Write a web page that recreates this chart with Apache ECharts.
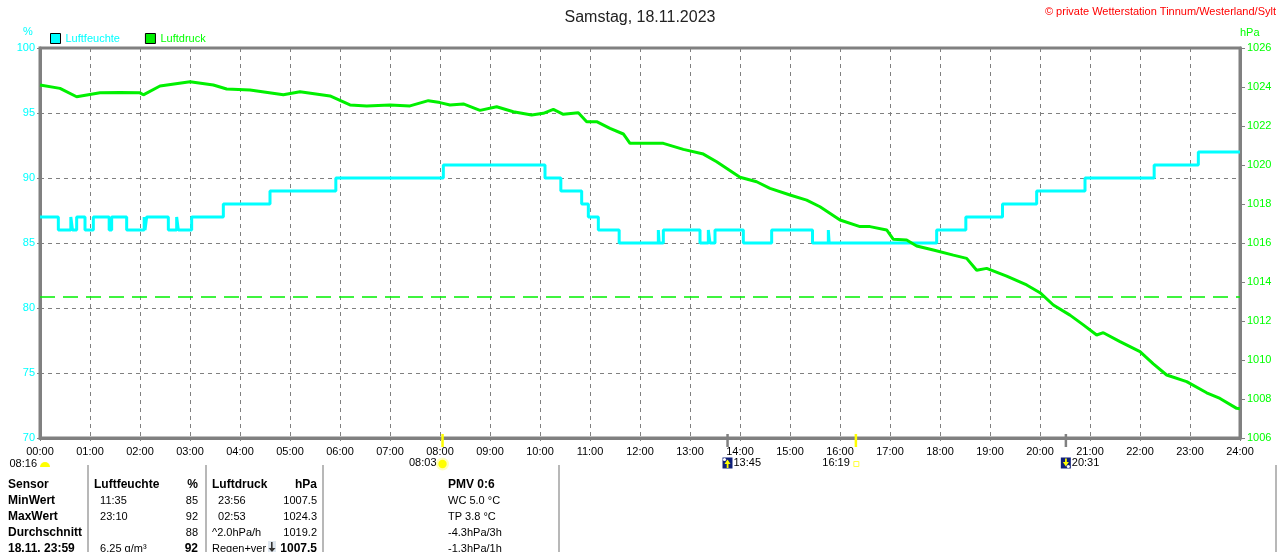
<!DOCTYPE html>
<html>
<head>
<meta charset="utf-8">
<script src="https://cdn.jsdelivr.net/npm/echarts@6/dist/echarts.min.js"></script>
<style>
html,body{margin:0;padding:0;background:#fff;}
#c{width:1280px;height:552px;}
</style>
</head>
<body>
<div id="c"></div>
<script>
// ---- data ----
var titleText = 'Samstag, 18.11.2023';
var copyrightText = '\u00A9 private Wetterstation Tinnum/Westerland/Sylt';
var seriesNames = ['Luftfeuchte', 'Luftdruck'];

// humidity (%) step values: value holds from time (minutes) until next time
var humTimes  = [0,22,37,39,44,54,64,83,86,104,125,126,128,154,164,166,182,220,276,355,484,606,625,650,658,670,695,742,743,748,792,802,804,810,844,878,927,946,947,1076,1111,1155,1196,1254,1337,1390,1440];
var humValues = [87,86,87,86,87,86,87,86,87,86,87,86,87,86,87,86,87,88,89,90,91,90,89,88,87,86,85,86,85,86,85,86,85,86,85,86,85,86,85,86,87,88,89,90,91,92,92];

// pressure (hPa)
var pressTimes  = [0,24,44,72,96,120,124,144,180,208,224,252,292,312,348,372,392,420,444,466,480,492,508,528,548,568,590,604,616,628,646,656,668,684,700,708,724,748,772,796,812,840,860,876,900,920,936,960,984,996,1016,1024,1040,1052,1072,1096,1112,1124,1136,1160,1184,1200,1216,1236,1252,1268,1276,1296,1320,1336,1352,1376,1400,1416,1436,1440];
var pressValues = [1024.1,1023.93,1023.5,1023.7,1023.72,1023.7,1023.6,1024.05,1024.27,1024.1,1023.9,1023.85,1023.6,1023.76,1023.54,1023.08,1023.03,1023.08,1023.03,1023.3,1023.2,1023.08,1023.13,1022.8,1022.99,1022.73,1022.56,1022.65,1022.85,1022.6,1022.68,1022.22,1022.22,1021.88,1021.59,1021.11,1021.11,1021.11,1020.8,1020.56,1020.17,1019.37,1019.14,1018.8,1018.46,1018.2,1017.86,1017.18,1016.84,1016.84,1016.67,1016.19,1016.15,1015.85,1015.64,1015.38,1015.21,1014.6,1014.7,1014.3,1013.85,1013.45,1012.82,1012.3,1011.8,1011.28,1011.4,1010.94,1010.43,1009.8,1009.23,1008.89,1008.32,1008.03,1007.52,1007.5];

var standardPressure = 1013.25;

// sun / moon events
var dayLength = '08:16';
var sunEvents  = [{t:'08:03', kind:'rise'}, {t:'16:19', kind:'set'}];
var moonEvents = [{t:'13:45', kind:'rise'}, {t:'20:31', kind:'set'}];

// info table
var tableRows = [
  ['Sensor', 'Luftfeuchte', '%', 'Luftdruck', 'hPa', 'PMV 0:6'],
  ['MinWert', '  11:35', '85', '  23:56', '1007.5', 'WC 5.0 \u00B0C'],
  ['MaxWert', '  23:10', '92', '  02:53', '1024.3', 'TP 3.8 \u00B0C'],
  ['Durchschnitt', '', '88', '^2.0hPa/h', '1019.2', '-4.3hPa/3h'],
  ['18.11. 23:59', '  6.25 g/m\u00B3', '92', 'Regen+ver', '1007.5', '-1.3hPa/1h']
];

// ---- chart ----
var CYAN = '#00ffff', GREEN = '#00f000', GREENTXT = '#00ff00', GRAY = '#808080';
var FONT = 'Liberation Sans';
function toMin(s){ var p = s.split(':'); return (+p[0])*60 + (+p[1]); }
function pad(n){ return (n<10?'0':'') + n; }

var humData = humTimes.map(function(t,i){ return [t, humValues[i]]; });
var pressData = pressTimes.map(function(t,i){ return [t, pressValues[i]]; });

var chart = echarts.init(document.getElementById('c'), null, {renderer:'canvas'});
var option = {
  animation: false,
  backgroundColor: '#fff',
  textStyle: {fontFamily: FONT},
  title: {
    text: titleText, left: 'center', top: 5,
    textStyle: {fontSize: 16, fontWeight: 'normal', color: '#222', fontFamily: FONT}
  },
  legend: {
    left: 50, top: 33, padding: 0, itemWidth: 10, itemHeight: 10, itemGap: 25,
    icon: 'rect',
    itemStyle: {borderColor: '#000', borderWidth: 1},
    textStyle: {fontSize: 11, fontFamily: FONT},
    data: [
      {name: seriesNames[0], textStyle: {color: CYAN}},
      {name: seriesNames[1], textStyle: {color: GREENTXT}}
    ],
    selectedMode: false
  },
  grid: {
    left: 40, right: 40, top: 48, bottom: 114,
    show: true, borderColor: GRAY, borderWidth: 3, backgroundColor: '#fff'
  },
  xAxis: {
    type: 'value', min: 0, max: 1440, interval: 60,
    axisLine: {show: true, lineStyle: {color: GRAY, width: 3}},
    axisTick: {show: true, length: 3, lineStyle: {color: GRAY}},
    axisLabel: {
      color: '#000', fontSize: 11, fontFamily: FONT, margin: 8,
      showMaxLabel: true, showMinLabel: true,
      formatter: function(v){ return pad(Math.round(v/60)) + ':00'; }
    },
    splitLine: {show: true, lineStyle: {color: GRAY, type: [4,4], width: 1}}
  },
  yAxis: [
    {
      type: 'value', min: 70, max: 100, interval: 5, position: 'left',
      axisLine: {show: true, lineStyle: {color: GRAY, width: 3}},
      axisTick: {show: true, length: 3, lineStyle: {color: GRAY}},
      axisLabel: {color: CYAN, fontSize: 11, fontFamily: FONT, margin: 5},
      splitLine: {show: true, lineStyle: {color: GRAY, type: [4,4], width: 1}}
    },
    {
      type: 'value', min: 1006, max: 1026, interval: 2, position: 'right',
      axisLine: {show: true, lineStyle: {color: GRAY, width: 3}},
      axisTick: {show: true, length: 5, lineStyle: {color: GRAY}},
      axisLabel: {color: GREENTXT, fontSize: 11, fontFamily: FONT, margin: 7,
        formatter: function(v){ return String(v); }},
      splitLine: {show: false}
    }
  ],
  series: [
    {
      name: seriesNames[0], type: 'line', yAxisIndex: 0, step: 'end',
      data: humData, showSymbol: false, symbol: 'none',
      lineStyle: {color: CYAN, width: 3}, itemStyle: {color: CYAN}, z: 3
    },
    {
      name: seriesNames[1], type: 'line', yAxisIndex: 1,
      data: pressData, showSymbol: false, symbol: 'none',
      lineStyle: {color: GREEN, width: 3}, itemStyle: {color: GREEN}, z: 4,
      markLine: {
        silent: true, symbol: ['none','none'], label: {show: false},
        lineStyle: {color: GREEN, type: [15,8], width: 1.5},
        data: [{yAxis: standardPressure}]
      }
    }
  ]
};
chart.setOption(option);

// ---- extra graphics (texts, markers, table) ----
var g = [];
function txt(x, y, s, opt){
  opt = opt || {};
  g.push({type:'text', x:x, y:y, silent:true, style:{
    text:s, fill: opt.color || '#000', font: (opt.bold?'bold ':'') + (opt.size||11) + 'px "' + FONT + '"',
    textAlign: opt.align || 'left', textVerticalAlign: 'middle'
  }, z: 10});
}
txt(1276, 12, copyrightText, {color:'#ff0000', align:'right', size:11});
txt(23, 32, '%', {color: CYAN});
txt(1240, 33, 'hPa', {color: GREENTXT});

var axisY = chart.convertToPixel({yAxisIndex:0}, 70);
function px(t){ return chart.convertToPixel({xAxisIndex:0}, toMin(t)); }

// day length
txt(37, 464, dayLength, {align:'right'});
g.push({type:'sector', silent:true, shape:{cx:45, cy:467, r:5, startAngle:Math.PI, endAngle:2*Math.PI}, style:{fill:'#ffff00'}, z:10});

sunEvents.forEach(function(e){
  var x = px(e.t);
  g.push({type:'rect', silent:true, shape:{x:x-1.2, y:axisY-4, width:2.5, height:13}, style:{fill:'#ffff00'}, z:11});
  txt(x-6, 463, e.t, {align:'right'});
  if (e.kind === 'rise') {
    g.push({type:'circle', silent:true, shape:{cx:x, cy:464, r:6.5}, style:{fill:'rgba(255,255,170,0.8)'}, z:10});
    g.push({type:'circle', silent:true, shape:{cx:x, cy:464, r:4.2}, style:{fill:'#ffff00'}, z:10});
  } else {
    g.push({type:'rect', silent:true, shape:{x:x-2, y:461.5, width:5, height:5}, style:{fill:'none', stroke:'#ffff40', lineWidth:1}, z:10});
  }
});
moonEvents.forEach(function(e){
  var x = px(e.t);
  g.push({type:'rect', silent:true, shape:{x:x-1.2, y:axisY-4, width:2.5, height:13}, style:{fill:GRAY}, z:11});
  g.push({type:'rect', silent:true, shape:{x:x-5, y:457.5, width:10, height:11}, style:{fill:'#10207a'}, z:10});
  var up = e.kind === 'rise';
  g.push({type:'polygon', silent:true, shape:{points: up ? [[x-3,464],[x+3,464],[x,459.5]] : [[x-3,462],[x+3,462],[x,466.5]]}, style:{fill:'#ffff00'}, z:11});
  g.push({type:'rect', silent:true, shape:{x:x-0.8, y: up ? 463 : 458.5, width:1.8, height:5}, style:{fill:'#ffff00'}, z:11});
  g.push({type:'circle', silent:true, shape:{cx: up ? x-3 : x+2.5, cy: up ? 459.5 : 466.5, r:1.6}, style:{fill:'#ffffff'}, z:11});
  txt(x+6, 463, e.t, {align:'left'});
});

// table
var colX = [8, 94, 198, 212, 317, 448];
var colAlign = ['left','left','right','left','right','left'];
var rowY = [485, 501, 517, 533, 549];
tableRows.forEach(function(row, r){
  row.forEach(function(cell, c){
    if (!cell) return;
    var x = colX[c];
    var bold = (r === 0) || (c === 0) || (r === 4 && (c === 2 || c === 4));
    txt(x, rowY[r], cell, {bold: bold, align: colAlign[c], size: bold ? 12 : 11});
  });
});
// small rain icon in last row
g.push({type:'rect', silent:true, shape:{x:268, y:541, width:8, height:11}, style:{fill:'#dfe7ef'}, z:9});
g.push({type:'rect', silent:true, shape:{x:271, y:542, width:1.6, height:8}, style:{fill:'#333'}, z:10});
g.push({type:'polygon', silent:true, shape:{points:[[268.5,548],[275.5,548],[272,552]]}, style:{fill:'#333'}, z:10});

// separators
[88, 206, 323, 559, 1276].forEach(function(x){
  g.push({type:'line', silent:true, shape:{x1:x, y1:465, x2:x, y2:552}, style:{stroke:'#a0a0a0', lineWidth:1.5}, z:5});
});

chart.setOption({graphic: g});
</script>
</body>
</html>
